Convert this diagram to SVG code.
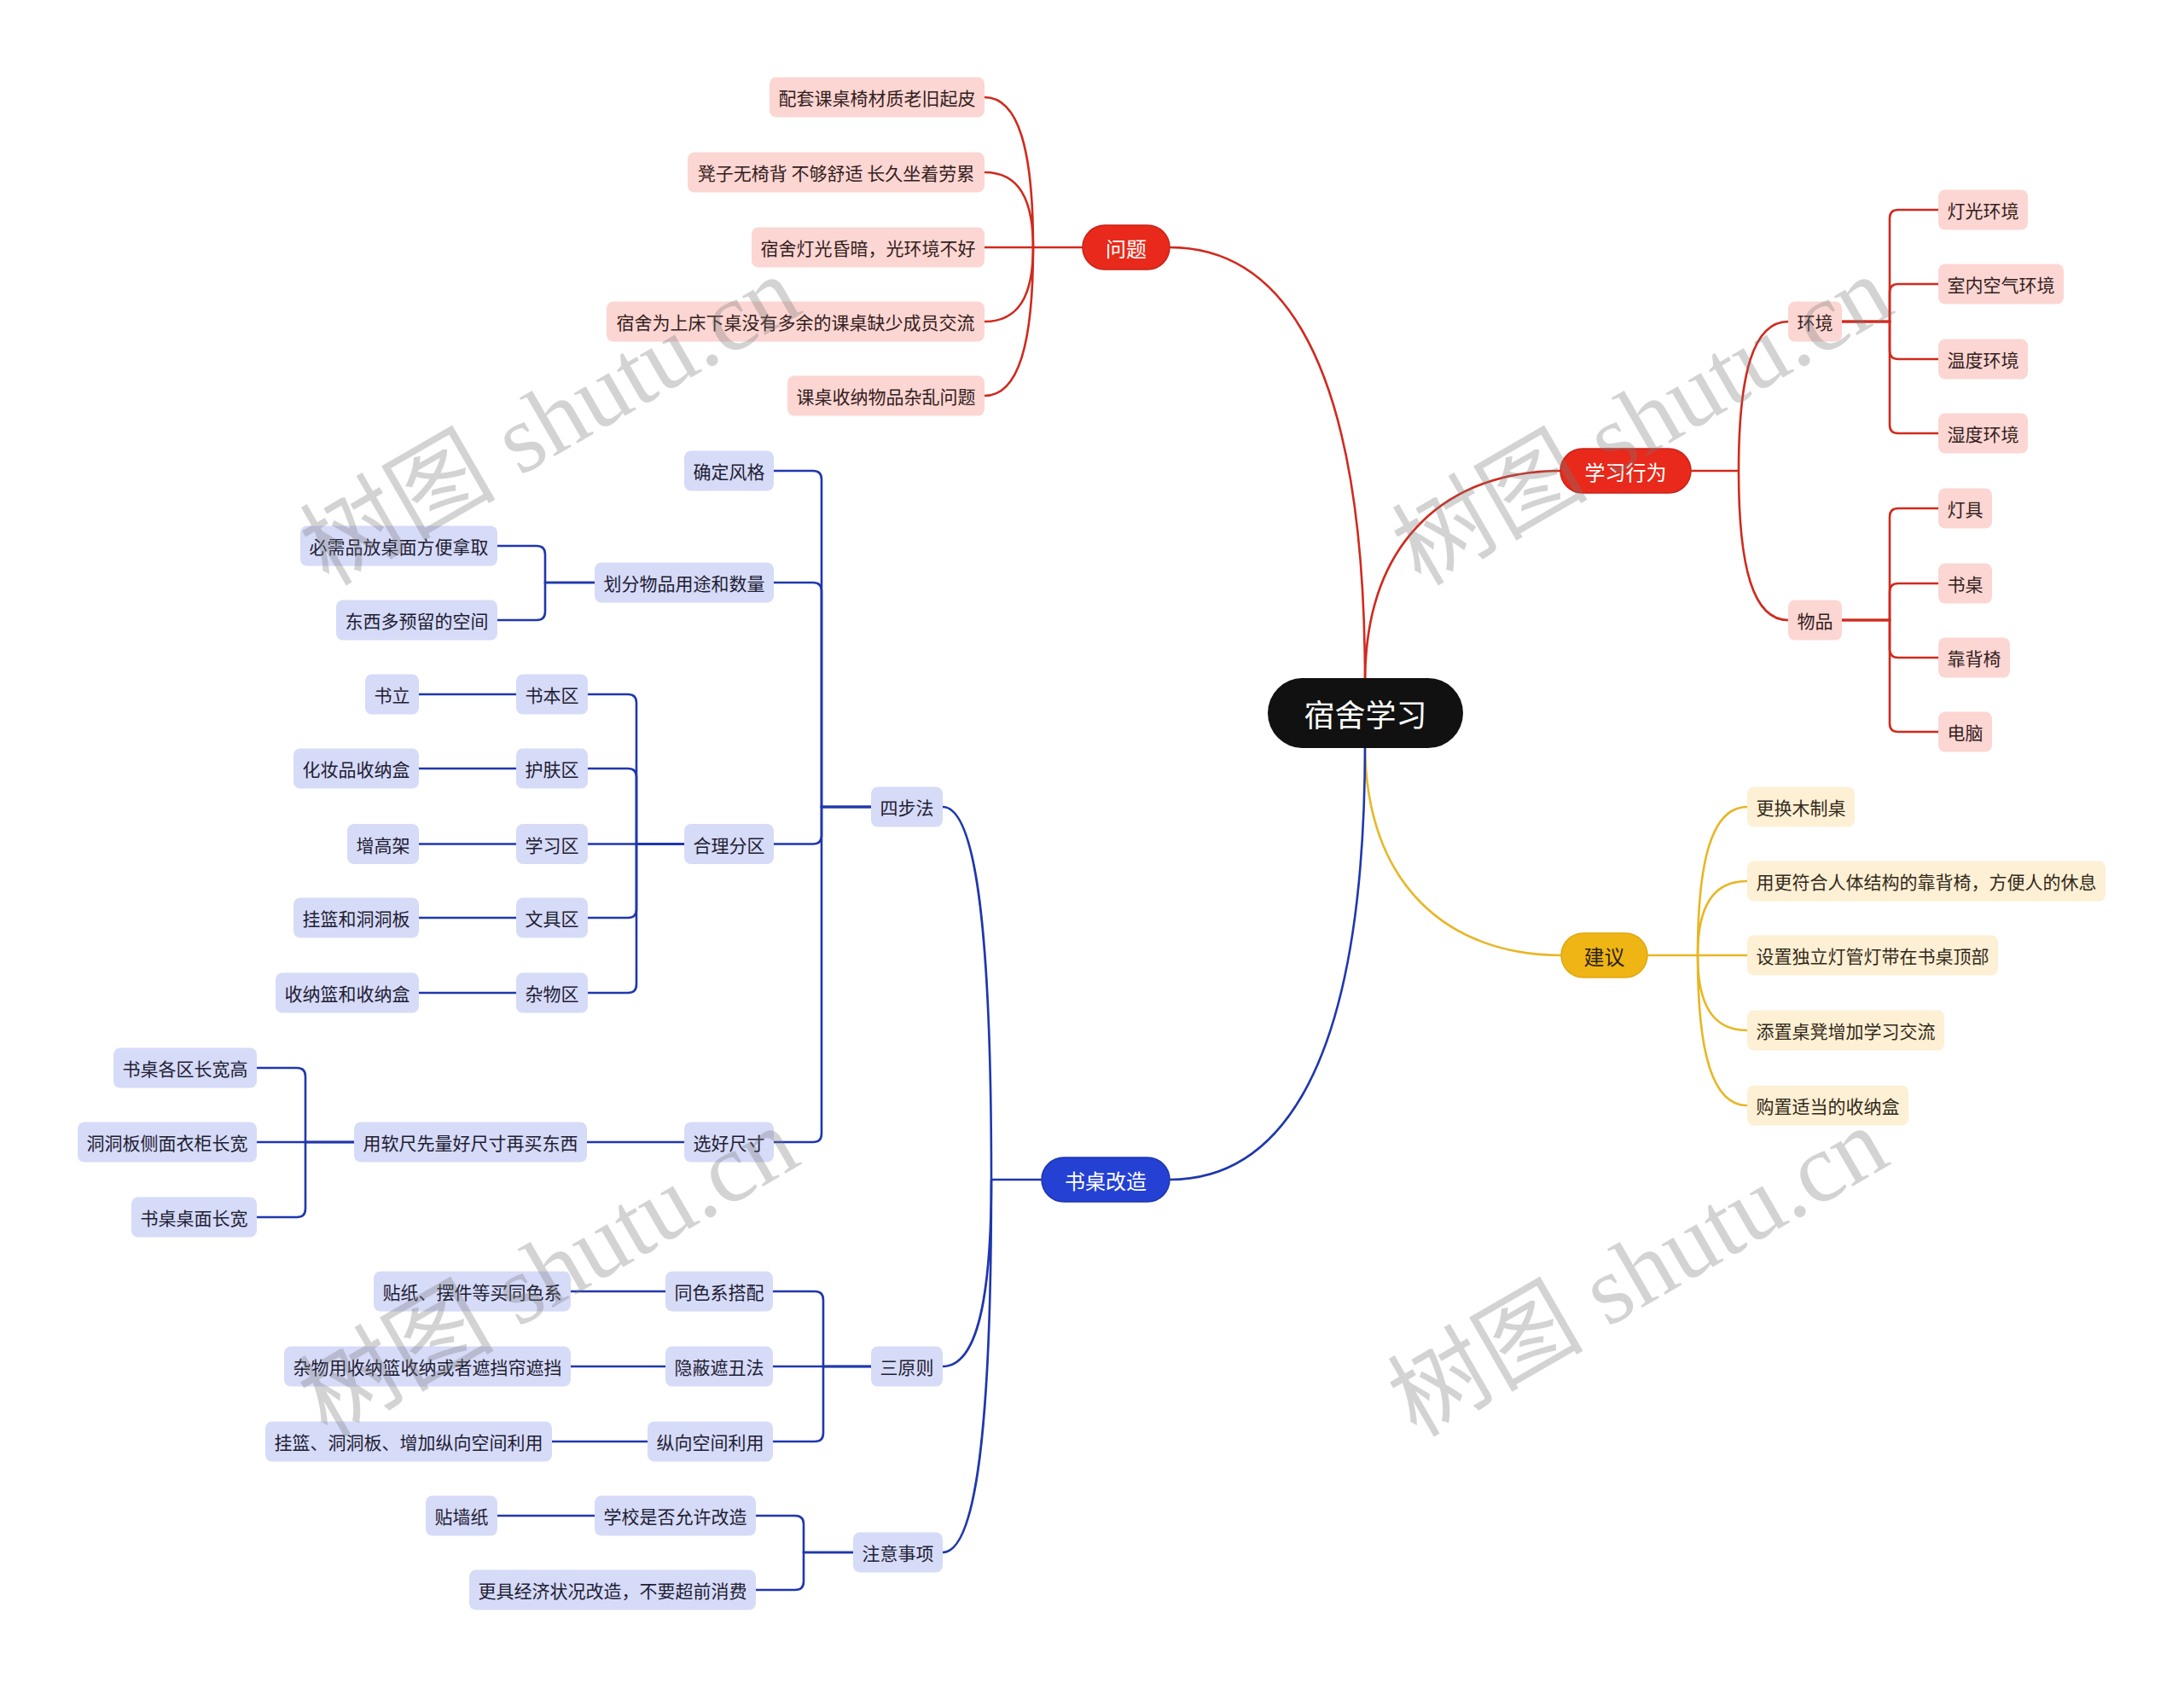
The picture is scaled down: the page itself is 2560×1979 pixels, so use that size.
<svg xmlns="http://www.w3.org/2000/svg" width="2560" height="1979" viewBox="0 0 2560 1979">
<style>
text{font-family:"Noto Sans CJK SC","Noto Sans",sans-serif;font-size:21px;dominant-baseline:central;text-anchor:middle}
.c path{fill:none;stroke-width:2.6}
.lr{stroke:#d02a1e}
.ly{stroke:#e8b626}
.lb{stroke:#1f37ad}
.r rect{fill:#fcd6d2}
.r text{fill:#33201d}
.y rect{fill:#fdf0d4}
.y text{fill:#33291a}
.b rect{fill:#d6dbf8}
.b text{fill:#1e2033}
.m text{font-size:24px;fill:#ffffff}
.wm{font-family:"Liberation Serif","Noto Sans CJK SC",serif;font-size:115px;fill:#7a7a7a;opacity:0.32;dominant-baseline:alphabetic;text-anchor:start}
</style>
<rect width="2560" height="1979" fill="#ffffff"/>
<g id="connectors" class="c">
<!-- main branches -->
<path class="lr" d="M1371,290 C1480,290 1600,380 1600,800"/>
<path class="lr" d="M1830,552 C1700,552 1600,630 1600,800"/>
<path class="ly" d="M1830,1120 C1700,1120 1600,1040 1600,872"/>
<path class="lb" d="M1371,1383 C1480,1383 1600,1290 1600,872"/>
<!-- 问题 -->
<path class="lr" d="M1269,290 H1154"/>
<path class="lr" d="M1211,290 C1211,176 1194,114 1154,114"/>
<path class="lr" d="M1211,290 C1211,233 1194,202 1154,202"/>
<path class="lr" d="M1211,290 C1211,347 1194,377 1154,377"/>
<path class="lr" d="M1211,290 C1211,403 1194,464 1154,464"/>
<!-- 学习行为 -->
<path class="lr" d="M1982,552 H2038"/>
<path class="lr" d="M2038,552 C2038,438 2055,377 2096,377"/>
<path class="lr" d="M2038,552 C2038,666 2055,727 2096,727"/>
<path class="lr" d="M2159,377 H2215 V256 Q2215,246 2225,246 H2272"/>
<path class="lr" d="M2159,377 H2215 V343 Q2215,333 2225,333 H2272"/>
<path class="lr" d="M2159,377 H2215 V411 Q2215,421 2225,421 H2272"/>
<path class="lr" d="M2159,377 H2215 V498 Q2215,508 2225,508 H2272"/>
<path class="lr" d="M2159,727 H2215 V606 Q2215,596 2225,596 H2272"/>
<path class="lr" d="M2159,727 H2215 V694 Q2215,684 2225,684 H2272"/>
<path class="lr" d="M2159,727 H2215 V761 Q2215,771 2225,771 H2272"/>
<path class="lr" d="M2159,727 H2215 V848 Q2215,858 2225,858 H2272"/>
<!-- 建议 -->
<path class="ly" d="M1931,1120 H2048"/>
<path class="ly" d="M1990,1120 C1990,1007 2007,946 2048,946"/>
<path class="ly" d="M1990,1120 C1990,1064 2007,1033 2048,1033"/>
<path class="ly" d="M1990,1120 C1990,1177 2007,1208 2048,1208"/>
<path class="ly" d="M1990,1120 C1990,1234 2007,1296 2048,1296"/>
<!-- 书桌改造 -->
<path class="lb" d="M1221,1383 H1162"/>
<path class="lb" d="M1162,1383 C1162,1099 1145,946 1105,946"/>
<path class="lb" d="M1162,1383 C1162,1525 1145,1602 1105,1602"/>
<path class="lb" d="M1162,1383 C1162,1667 1145,1820 1105,1820"/>
<!-- 四步法 -->
<path class="lb" d="M1021,946 H963 V562 Q963,552 953,552 H907"/>
<path class="lb" d="M1021,946 H963 V693 Q963,683 953,683 H907"/>
<path class="lb" d="M1021,946 H963 V979.5 Q963,989.5 953,989.5 H907"/>
<path class="lb" d="M1021,946 H963 V1329 Q963,1339 953,1339 H907"/>
<path class="lb" d="M697,683 H639 V650 Q639,640 629,640 H583"/>
<path class="lb" d="M697,683 H639 V717 Q639,727 629,727 H583"/>
<path class="lb" d="M803,989.5 H746 V824 Q746,814 736,814 H689"/>
<path class="lb" d="M803,989.5 H746 V911 Q746,901 736,901 H689"/>
<path class="lb" d="M803,989.5 H689"/>
<path class="lb" d="M803,989.5 H746 V1066 Q746,1076 736,1076 H689"/>
<path class="lb" d="M803,989.5 H746 V1154 Q746,1164 736,1164 H689"/>
<path class="lb" d="M605,814 H491"/>
<path class="lb" d="M605,901 H491"/>
<path class="lb" d="M605,989.5 H491"/>
<path class="lb" d="M605,1076 H491"/>
<path class="lb" d="M605,1164 H491"/>
<path class="lb" d="M802,1339 H688"/>
<path class="lb" d="M415,1339 H358 V1262 Q358,1252 348,1252 H301"/>
<path class="lb" d="M415,1339 H301"/>
<path class="lb" d="M415,1339 H358 V1417 Q358,1427 348,1427 H301"/>
<!-- 三原则 -->
<path class="lb" d="M1021,1602 H965 V1524 Q965,1514 955,1514 H906"/>
<path class="lb" d="M1021,1602 H906"/>
<path class="lb" d="M1021,1602 H965 V1680 Q965,1690 955,1690 H906"/>
<path class="lb" d="M780,1514 H669"/>
<path class="lb" d="M780,1602 H669"/>
<path class="lb" d="M759,1690 H647"/>
<!-- 注意事项 -->
<path class="lb" d="M1000,1820 H942 V1787 Q942,1777 932,1777 H886"/>
<path class="lb" d="M1000,1820 H942 V1854 Q942,1864 932,1864 H886"/>
<path class="lb" d="M697,1777 H583"/>
</g>

<g id="root"><rect x="1486" y="795" width="229" height="82" rx="41" fill="#111111"/><text x="1600.5" y="836" style="font-size:36px;fill:#ffffff">宿舍学习</text></g>

<g id="wenti" class="m"><rect x="1269" y="264" width="102" height="52" rx="26" fill="#e8291b" stroke="#c9241a" stroke-width="1.5"/><text x="1320" y="290">问题</text></g>
<g id="xuexixingwei" class="m"><rect x="1829" y="526" width="153" height="52" rx="26" fill="#e8291b" stroke="#c9241a" stroke-width="1.5"/><text x="1905.5" y="552">学习行为</text></g>
<g id="jianyi" class="m"><rect x="1830" y="1094" width="101" height="52" rx="26" fill="#efb515" stroke="#e0a810" stroke-width="1.5"/><text x="1880.5" y="1120" style="fill:#2e2410">建议</text></g>
<g id="shuzhuogaizao" class="m"><rect x="1221" y="1357" width="150" height="52" rx="26" fill="#2441d4" stroke="#1f37ad" stroke-width="1.5"/><text x="1296" y="1383">书桌改造</text></g>

<!-- 问题 children -->
<g id="w1" class="r"><rect x="902" y="90.5" width="252" height="47" rx="8"/><text x="1028" y="114">配套课桌椅材质老旧起皮</text></g>
<g id="w2" class="r"><rect x="806" y="178.5" width="348" height="47" rx="8"/><text x="980" y="202">凳子无椅背 不够舒适 长久坐着劳累</text></g>
<g id="w3" class="r"><rect x="881" y="266.5" width="273" height="47" rx="8"/><text x="1017.5" y="290">宿舍灯光昏暗，光环境不好</text></g>
<g id="w4" class="r"><rect x="711" y="353.5" width="443" height="47" rx="8"/><text x="932.5" y="377">宿舍为上床下桌没有多余的课桌缺少成员交流</text></g>
<g id="w5" class="r"><rect x="923" y="440.5" width="231" height="47" rx="8"/><text x="1038.5" y="464">课桌收纳物品杂乱问题</text></g>

<!-- 学习行为 children -->
<g id="huanjing" class="r"><rect x="2096" y="353.5" width="63" height="47" rx="8"/><text x="2127.5" y="377">环境</text></g>
<g id="wupin" class="r"><rect x="2096" y="703.5" width="63" height="47" rx="8"/><text x="2127.5" y="727">物品</text></g>
<g id="hj1" class="r"><rect x="2272" y="222.5" width="105" height="47" rx="8"/><text x="2324.5" y="246">灯光环境</text></g>
<g id="hj2" class="r"><rect x="2272" y="309.5" width="147" height="47" rx="8"/><text x="2345.5" y="333">室内空气环境</text></g>
<g id="hj3" class="r"><rect x="2272" y="397.5" width="105" height="47" rx="8"/><text x="2324.5" y="421">温度环境</text></g>
<g id="hj4" class="r"><rect x="2272" y="484.5" width="105" height="47" rx="8"/><text x="2324.5" y="508">湿度环境</text></g>
<g id="wp1" class="r"><rect x="2272" y="572.5" width="63" height="47" rx="8"/><text x="2303.5" y="596">灯具</text></g>
<g id="wp2" class="r"><rect x="2272" y="660.5" width="63" height="47" rx="8"/><text x="2303.5" y="684">书桌</text></g>
<g id="wp3" class="r"><rect x="2272" y="747.5" width="84" height="47" rx="8"/><text x="2314" y="771">靠背椅</text></g>
<g id="wp4" class="r"><rect x="2272" y="834.5" width="63" height="47" rx="8"/><text x="2303.5" y="858">电脑</text></g>

<!-- 建议 children -->
<g id="j1" class="y"><rect x="2048" y="922.5" width="126" height="47" rx="8"/><text x="2111" y="946">更换木制桌</text></g>
<g id="j2" class="y"><rect x="2048" y="1009.5" width="420" height="47" rx="8"/><text x="2258" y="1033">用更符合人体结构的靠背椅，方便人的休息</text></g>
<g id="j3" class="y"><rect x="2048" y="1096.5" width="294" height="47" rx="8"/><text x="2195" y="1120">设置独立灯管灯带在书桌顶部</text></g>
<g id="j4" class="y"><rect x="2048" y="1184.5" width="231" height="47" rx="8"/><text x="2163.5" y="1208">添置桌凳增加学习交流</text></g>
<g id="j5" class="y"><rect x="2048" y="1272.5" width="189" height="47" rx="8"/><text x="2142.5" y="1296">购置适当的收纳盒</text></g>

<!-- 书桌改造 subtree -->
<g id="sibufa" class="b"><rect x="1021" y="922.5" width="84" height="47" rx="8"/><text x="1063" y="946">四步法</text></g>
<g id="sanyuanze" class="b"><rect x="1021" y="1578.5" width="84" height="47" rx="8"/><text x="1063" y="1602">三原则</text></g>
<g id="zhuyishixiang" class="b"><rect x="1000" y="1796.5" width="105" height="47" rx="8"/><text x="1052.5" y="1820">注意事项</text></g>

<g id="s1" class="b"><rect x="802" y="528.5" width="105" height="47" rx="8"/><text x="854.5" y="552">确定风格</text></g>
<g id="s2" class="b"><rect x="697" y="659.5" width="210" height="47" rx="8"/><text x="802" y="683">划分物品用途和数量</text></g>
<g id="s3" class="b"><rect x="802" y="966" width="105" height="47" rx="8"/><text x="854.5" y="989.5">合理分区</text></g>
<g id="s4" class="b"><rect x="802" y="1315.5" width="105" height="47" rx="8"/><text x="854.5" y="1339">选好尺寸</text></g>

<g id="s2a" class="b"><rect x="352" y="616.5" width="231" height="47" rx="8"/><text x="467.5" y="640">必需品放桌面方便拿取</text></g>
<g id="s2b" class="b"><rect x="394" y="703.5" width="189" height="47" rx="8"/><text x="488.5" y="727">东西多预留的空间</text></g>

<g id="s3a" class="b"><rect x="605" y="790.5" width="84" height="47" rx="8"/><text x="647" y="814">书本区</text></g>
<g id="s3b" class="b"><rect x="605" y="877.5" width="84" height="47" rx="8"/><text x="647" y="901">护肤区</text></g>
<g id="s3c" class="b"><rect x="605" y="966" width="84" height="47" rx="8"/><text x="647" y="989.5">学习区</text></g>
<g id="s3d" class="b"><rect x="605" y="1052.5" width="84" height="47" rx="8"/><text x="647" y="1076">文具区</text></g>
<g id="s3e" class="b"><rect x="605" y="1140.5" width="84" height="47" rx="8"/><text x="647" y="1164">杂物区</text></g>
<g id="s3a1" class="b"><rect x="428" y="790.5" width="63" height="47" rx="8"/><text x="459.5" y="814">书立</text></g>
<g id="s3b1" class="b"><rect x="344" y="877.5" width="147" height="47" rx="8"/><text x="417.5" y="901">化妆品收纳盒</text></g>
<g id="s3c1" class="b"><rect x="407" y="966" width="84" height="47" rx="8"/><text x="449" y="989.5">增高架</text></g>
<g id="s3d1" class="b"><rect x="344" y="1052.5" width="147" height="47" rx="8"/><text x="417.5" y="1076">挂篮和洞洞板</text></g>
<g id="s3e1" class="b"><rect x="323" y="1140.5" width="168" height="47" rx="8"/><text x="407" y="1164">收纳篮和收纳盒</text></g>

<g id="s4a" class="b"><rect x="415" y="1315.5" width="273" height="47" rx="8"/><text x="551.5" y="1339">用软尺先量好尺寸再买东西</text></g>
<g id="s4a1" class="b"><rect x="133" y="1228.5" width="168" height="47" rx="8"/><text x="217" y="1252">书桌各区长宽高</text></g>
<g id="s4a2" class="b"><rect x="91" y="1315.5" width="210" height="47" rx="8"/><text x="196" y="1339">洞洞板侧面衣柜长宽</text></g>
<g id="s4a3" class="b"><rect x="154" y="1403.5" width="147" height="47" rx="8"/><text x="227.5" y="1427">书桌桌面长宽</text></g>

<g id="y1" class="b"><rect x="780" y="1490.5" width="126" height="47" rx="8"/><text x="843" y="1514">同色系搭配</text></g>
<g id="y2" class="b"><rect x="780" y="1578.5" width="126" height="47" rx="8"/><text x="843" y="1602">隐蔽遮丑法</text></g>
<g id="y3" class="b"><rect x="759" y="1666.5" width="147" height="47" rx="8"/><text x="832.5" y="1690">纵向空间利用</text></g>
<g id="y1a" class="b"><rect x="438" y="1490.5" width="231" height="47" rx="8"/><text x="553.5" y="1514">贴纸、摆件等买同色系</text></g>
<g id="y2a" class="b"><rect x="333" y="1578.5" width="336" height="47" rx="8"/><text x="501" y="1602">杂物用收纳篮收纳或者遮挡帘遮挡</text></g>
<g id="y3a" class="b"><rect x="311" y="1666.5" width="336" height="47" rx="8"/><text x="479" y="1690">挂篮、洞洞板、增加纵向空间利用</text></g>

<g id="z1" class="b"><rect x="697" y="1753.5" width="189" height="47" rx="8"/><text x="791.5" y="1777">学校是否允许改造</text></g>
<g id="z2" class="b"><rect x="550" y="1840.5" width="336" height="47" rx="8"/><text x="718" y="1864">更具经济状况改造，不要超前消费</text></g>
<g id="z1a" class="b"><rect x="499" y="1753.5" width="84" height="47" rx="8"/><text x="541" y="1777">贴墙纸</text></g>

<g id="watermarks">
<text class="wm" transform="translate(385,688) rotate(-30)">树图 shutu.cn</text>
<text class="wm" transform="translate(1665,688) rotate(-30)">树图 shutu.cn</text>
<text class="wm" transform="translate(383,1686) rotate(-30)">树图 shutu.cn</text>
<text class="wm" transform="translate(1660,1686) rotate(-30)">树图 shutu.cn</text>
</g>
</svg>
